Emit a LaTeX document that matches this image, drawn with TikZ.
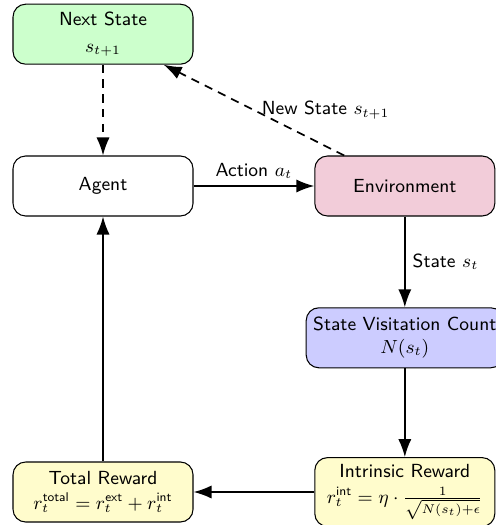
\documentclass[tikz,border=0pt]{standalone}
\usepackage{amsmath}
\usetikzlibrary{arrows.meta}
\begin{document}
\begin{tikzpicture}[x=1cm,y=1cm,font=\sffamily\small,
  box/.style={draw, rounded corners=6pt, minimum width=3cm, minimum height=1cm, align=center, line width=0.5pt},
  arr/.style={-{Latex[length=3mm,width=2.2mm]}, thick},
  darr/.style={-{Latex[length=3mm,width=2.2mm]}, thick, dash pattern=on 4pt off 3pt}]
\useasboundingbox (-1.717,-5.65) rectangle (6.533,3.1);
\node[box] (agent) at (0,0) {Agent};
\node[box, fill=purple!20] (env) at (5.03,0) {Environment};
\node[box, fill=green!20] (next) at (0,2.53) {Next State\\[2pt] $s_{t+1}$};
\node[box, fill=blue!20] (count) at (5.03,-2.53) {State Visitation Count\\ $N(s_t)$};
\node[box, fill=yellow!20] (intr) at (5.03,-5.1) {Intrinsic Reward\\[1pt] $r_t^{\text{int}} = \eta \cdot \frac{1}{\sqrt{N(s_t)+\epsilon}}$};
\node[box, fill=yellow!20] (total) at (0,-5.1) {Total Reward\\[1pt] $r_t^{\text{total}} = r_t^{\text{ext}} + r_t^{\text{int}}$};
\draw[arr] (agent) -- node[above] {Action $a_t$} (env);
\draw[arr] (env) -- node[right] {State $s_t$} (count);
\draw[arr] (count) -- (intr);
\draw[arr] (intr) -- (total);
\draw[arr] (total) -- (agent);
\draw[darr] (env) -- node[midway, right] {New State $s_{t+1}$} (next);
\draw[darr] (next) -- (agent);
\end{tikzpicture}
\end{document}
